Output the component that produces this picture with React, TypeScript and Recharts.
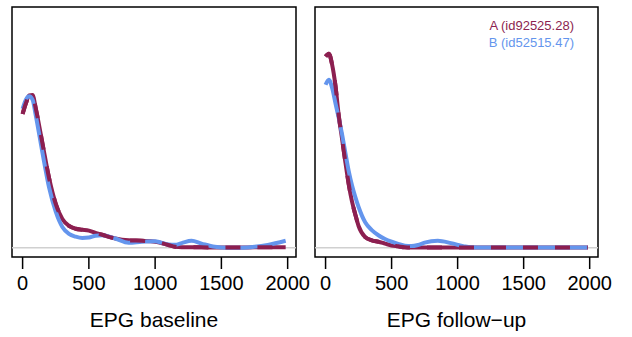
import React from "react";
import {
  LineChart,
  Line,
  XAxis,
  YAxis,
  ReferenceArea,
  ReferenceLine,
  Legend,
} from "recharts";

// density curves (x = EPG, y = density x 1000)
const baselineEpg = [0, 25, 50, 75, 100, 150, 200, 250, 300, 350, 400, 450, 500, 550, 600, 700, 800, 900, 1000, 1100, 1150, 1200, 1275, 1350, 1450, 1550, 1650, 1750, 1850, 1985];
const baselineA = [2.89, 3.12, 3.29, 3.3, 3.0, 2.25, 1.5, 0.95, 0.62, 0.47, 0.41, 0.39, 0.37, 0.32, 0.28, 0.2, 0.16, 0.15, 0.13, 0.06, 0.02, 0.01, 0.01, 0.01, 0.005, 0.005, 0.005, 0.01, 0.01, 0.01];
const baselineB = [3.0, 3.2, 3.27, 3.2, 2.85, 2.05, 1.3, 0.78, 0.45, 0.3, 0.24, 0.21, 0.22, 0.26, 0.27, 0.2, 0.11, 0.13, 0.14, 0.07, 0.065, 0.1, 0.15, 0.09, 0.02, 0.0, 0.0, 0.02, 0.06, 0.15];

const followEpg = [0, 25, 50, 75, 100, 125, 150, 175, 200, 225, 250, 300, 350, 400, 450, 500, 550, 600, 650, 700, 750, 850, 950, 1050, 1100, 1200, 1400, 1600, 1800, 1985];
const followA = [4.13, 4.19, 3.95, 3.5, 2.85, 2.35, 1.85, 1.38, 1.0, 0.72, 0.47, 0.23, 0.16, 0.13, 0.09, 0.05, 0.03, 0.01, 0.005, 0.005, 0.005, 0.005, 0.005, 0.005, 0.005, 0.005, 0.005, 0.005, 0.005, 0.005];
const followB = [3.52, 3.63, 3.45, 3.12, 2.8, 2.45, 2.05, 1.66, 1.35, 1.1, 0.88, 0.55, 0.38, 0.27, 0.19, 0.13, 0.08, 0.045, 0.035, 0.06, 0.11, 0.15, 0.1, 0.03, 0.01, 0.005, 0.005, 0.005, 0.005, 0.005];

const xTicks = [0, 500, 1000, 1500, 2000];
const legendNames = ["A (id92525.28)", "B (id52515.47)"];

const colorA = "#8C1F50";
const colorB = "#6495ED";
const X_DOMAIN = [-80, 2063];
const Y_DOMAIN = [-0.2, 5.2];
const FONT = "'Liberation Sans', Arial, Helvetica, sans-serif";

function toRows(xs: number[], a: number[], b: number[]) {
  return xs.map((x, i) => ({ x, a: a[i], b: b[i] }));
}

function LegendBox() {
  const colors = [colorA, colorB];
  return (
    <div style={{ textAlign: "right", fontSize: 13, lineHeight: "16.7px", fontFamily: FONT }}>
      {legendNames.map((n, i) => (
        <div key={n} style={{ color: colors[i] }}>{n}</div>
      ))}
    </div>
  );
}

function Panel({ rows, title, width, right, withLegend }: any) {
  return (
    <LineChart
      width={width}
      height={337}
      data={rows}
      margin={{ top: 7, right, bottom: 0, left: 12 }}
    >
      <XAxis
        dataKey="x"
        type="number"
        domain={X_DOMAIN}
        ticks={xTicks}
        axisLine={false}
        tickSize={12}
        tickMargin={7}
        tickLine={{ stroke: "#000", strokeWidth: 1.5 }}
        tick={{ fill: "#000", fontSize: 20 }}
        height={80}
        label={{ value: title, position: "insideBottom", offset: 10, fill: "#000", fontSize: 21 }}
      />
      <YAxis type="number" domain={Y_DOMAIN} hide />
      <ReferenceLine y={0} stroke="#d0d0d0" strokeWidth={1.5} />
      <Line dataKey="a" type="monotone" stroke={colorA} strokeWidth={4} dot={false} isAnimationActive={false} legendType="none" />
      <Line dataKey="b" type="monotone" stroke={colorB} strokeWidth={4} dot={false} isAnimationActive={false} legendType="none" />
      <Line
        dataKey="a"
        type="monotone"
        stroke={colorA}
        strokeWidth={4}
        strokeDasharray="15 17"
        dot={false}
        isAnimationActive={false}
        legendType="none"
      />
      <ReferenceArea
        x1={X_DOMAIN[0]}
        x2={X_DOMAIN[1]}
        y1={Y_DOMAIN[0]}
        y2={Y_DOMAIN[1]}
        fill="none"
        stroke="#000"
        strokeWidth={1.5}
      />
      {withLegend && (
        <Legend
          layout="vertical"
          align="center"
          verticalAlign="middle"
          content={() => <LegendBox />}
          wrapperStyle={{ top: 18, right: 58, width: "auto", height: "auto" }}
        />
      )}
    </LineChart>
  );
}

export default function App() {
  return (
    <div style={{ position: "absolute", left: 0, top: 0, width: 632, height: 337, background: "#fff", fontFamily: FONT }}>
      <div style={{ position: "absolute", left: 0, top: 0 }}>
        <Panel rows={toRows(baselineEpg, baselineA, baselineB)} title="EPG baseline" width={316} right={20} />
      </div>
      <div style={{ position: "absolute", left: 303, top: 0 }}>
        <Panel rows={toRows(followEpg, followA, followB)} title="EPG follow−up" width={329} right={34} withLegend />
      </div>
    </div>
  );
}
